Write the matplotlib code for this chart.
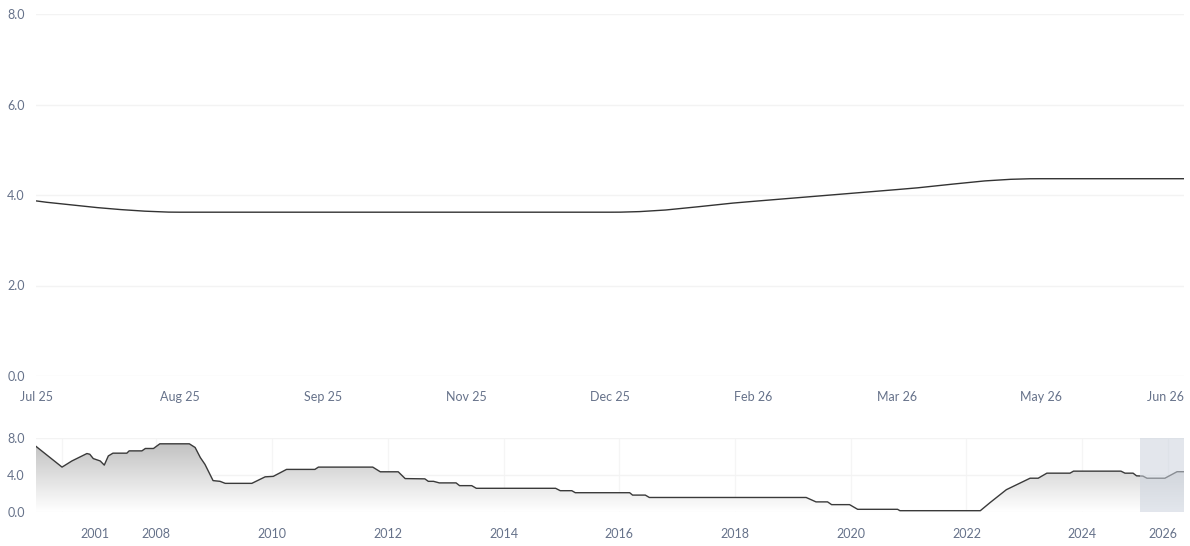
import numpy as np
import matplotlib
matplotlib.use('Agg')
from matplotlib import pyplot as plt
from matplotlib.path import Path
from matplotlib.patches import PathPatch

plt.rcParams['font.family'] = ['Lato', 'DejaVu Sans']

# main chart (ordinal axis: one slot per meeting)
main_labels = ['Jul 25', 'Aug 25', 'Sep 25', 'Nov 25', 'Dec 25',
               'Feb 26', 'Mar 26', 'May 26', 'Jun 26']
main_rates = [3.87, 3.62, 3.62, 3.62, 3.62, 3.86, 4.12, 4.36, 4.36]

# navigator history (x in year units of the navigator axis)
nav_years = [2005.92, 2006.37, 2006.54, 2006.80, 2006.85, 2006.91, 2007.03,
             2007.10, 2007.17, 2007.25, 2007.49, 2007.53, 2007.75, 2007.81,
             2007.95, 2008.06, 2008.57, 2008.67, 2008.76, 2008.84, 2008.98,
             2009.10, 2009.19, 2009.65, 2009.88, 2010.02, 2010.25, 2010.74,
             2010.80, 2011.74, 2011.87, 2012.18, 2012.30, 2012.64, 2012.70,
             2012.79, 2012.89, 2013.18, 2013.24, 2013.45, 2013.53, 2014.90,
             2014.98, 2015.18, 2015.24, 2016.18, 2016.23, 2016.45, 2016.52,
             2019.23, 2019.40, 2019.60, 2019.67, 2019.98, 2020.12, 2020.81,
             2020.85, 2022.24, 2022.41, 2022.69, 2023.10, 2023.24, 2023.39,
             2023.79, 2023.85, 2024.67, 2024.74, 2024.88, 2024.94, 2025.05,
             2025.12, 2025.43, 2025.64, 2025.76]
nav_rates = [7.12, 4.86, 5.53, 6.34, 6.26, 5.79, 5.53,
             5.08, 6.08, 6.38, 6.38, 6.63, 6.63, 6.89,
             6.89, 7.40, 7.40, 7.00, 5.90, 5.16, 3.39,
             3.31, 3.09, 3.09, 3.80, 3.85, 4.61, 4.61,
             4.86, 4.86, 4.35, 4.35, 3.61, 3.58, 3.31,
             3.31, 3.14, 3.14, 2.84, 2.84, 2.55, 2.55,
             2.29, 2.29, 2.07, 2.07, 1.81, 1.81, 1.55,
             1.55, 1.07, 1.07, 0.77, 0.77, 0.26, 0.26,
             0.11, 0.11, 1.00, 2.40, 3.65, 3.65, 4.20,
             4.20, 4.42, 4.42, 4.20, 4.20, 3.91, 3.88,
             3.65, 3.65, 4.36, 4.36]
nav_grid = [2006.37, 2008, 2010, 2012, 2014, 2016, 2018, 2020, 2022, 2024, 2025.49]
nav_tick_pos = [2006.94, 2008, 2010, 2012, 2014, 2016, 2018, 2020, 2022, 2024, 2025.40]
nav_tick_labels = ['2001', '2008', '2010', '2012', '2014', '2016', '2018',
                   '2020', '2022', '2024', '2026']
selected = (2025.0, 2025.76)

label_color = '#66728a'
grid_color = '#f3f3f3'


def spline_path(xs, ys, smoothing=1.5):
    # highcharts-like spline built from bezier segments
    n = len(xs)
    left = [(xs[i], ys[i]) for i in range(n)]
    right = [(xs[i], ys[i]) for i in range(n)]
    denom = smoothing + 1
    for i in range(1, n - 1):
        lx, ly = xs[i - 1], ys[i - 1]
        nx, ny = xs[i + 1], ys[i + 1]
        px, py = xs[i], ys[i]
        lcx = (smoothing * px + lx) / denom
        lcy = (smoothing * py + ly) / denom
        rcx = (smoothing * px + nx) / denom
        rcy = (smoothing * py + ny) / denom
        if rcx != lcx:
            corr = (rcy - lcy) * (rcx - px) / (rcx - lcx) + py - rcy
            lcy += corr
            rcy += corr
        if lcy > ly and lcy > py:
            lcy = max(ly, py)
            rcy = 2 * py - lcy
        elif lcy < ly and lcy < py:
            lcy = min(ly, py)
            rcy = 2 * py - lcy
        if rcy > ny and rcy > py:
            rcy = max(ny, py)
            lcy = 2 * py - rcy
        elif rcy < ny and rcy < py:
            rcy = min(ny, py)
            lcy = 2 * py - rcy
        left[i] = (lcx, lcy)
        right[i] = (rcx, rcy)
    verts = [(xs[0], ys[0])]
    codes = [Path.MOVETO]
    for i in range(1, n):
        verts += [right[i - 1], left[i], (xs[i], ys[i])]
        codes += [Path.CURVE4] * 3
    return Path(verts, codes)


fig = plt.figure(figsize=(11.9, 5.46), dpi=100)
ax = fig.add_axes([36 / 1190, 1 - 376 / 546, 1148 / 1190, 362 / 546])
nav = fig.add_axes([36 / 1190, 1 - 511.7 / 546, 1148 / 1190, 73.4 / 546])

# main chart
x = np.arange(len(main_rates))
ax.add_patch(PathPatch(spline_path(list(x), main_rates), fill=False,
                       edgecolor='#333333', lw=1.0))
ax.set_xlim(0, len(main_rates) - 1)
ax.set_ylim(0, 8)
ax.set_yticks([0, 2, 4, 6, 8])
ax.set_yticklabels(['0.0', '2.0', '4.0', '6.0', '8.0'])
ax.set_xticks(x)
ax.set_xticklabels(main_labels)
ax.grid(axis='y', color=grid_color, lw=1)
ax.set_axisbelow(True)
for s in ax.spines.values():
    s.set_visible(False)
ax.tick_params(length=0, labelsize=9, labelcolor=label_color)
ax.tick_params(axis='x', pad=11)
ax.tick_params(axis='y', pad=8)
ax.get_xticklabels()[-1].set_ha('right')

# navigator
nav.set_xlim(nav_years[0], nav_years[-1])
nav.set_ylim(0, 8)
poly = nav.fill_between(nav_years, nav_rates, 0, color='none', lw=0)
grad = np.linspace(0.74, 1.0, 256).reshape(-1, 1)
img = nav.imshow(grad, cmap='gray', vmin=0, vmax=1, aspect='auto',
                 extent=[nav_years[0], nav_years[-1], 0, 8], origin='upper',
                 zorder=1)
clip = PathPatch(poly.get_paths()[0], transform=nav.transData)
img.set_clip_path(clip)
nav.plot(nav_years, nav_rates, color='#3a3a3a', lw=1.0, zorder=3)
nav.axvspan(selected[0], selected[1], color='#ccd3de', alpha=0.55, lw=0,
            zorder=4)
for g in nav_grid:
    nav.axvline(g, color='#f5f5f5', lw=1, zorder=0)
nav.set_yticks([0, 4, 8])
nav.set_yticklabels(['0.0', '4.0', '8.0'])
nav.grid(axis='y', color=grid_color, lw=1)
nav.set_axisbelow(True)
nav.set_xticks(nav_tick_pos)
nav.set_xticklabels(nav_tick_labels)
for s in nav.spines.values():
    s.set_visible(False)
nav.tick_params(length=0, labelsize=9, labelcolor=label_color)
nav.tick_params(axis='x', pad=12)
nav.tick_params(axis='y', pad=8)

fig.savefig('out.png', dpi=100)
